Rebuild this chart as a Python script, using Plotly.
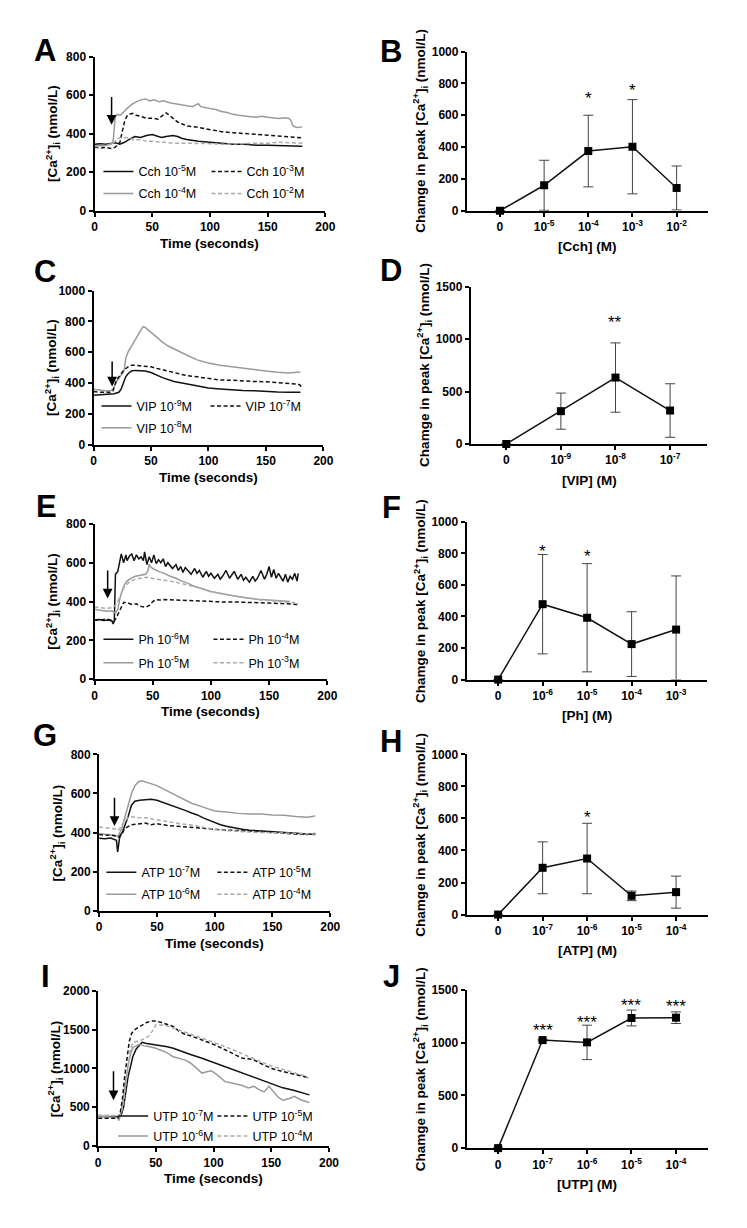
import plotly.graph_objects as go

W, H = 739, 1220          # figure size (page body adds an 8 px margin)
OFF = 8
FONT = "Liberation Sans, Arial, Helvetica, sans-serif"

# ======================= DATA =======================
# ---- Panel A : carbachol time courses ----
A_cch5_t = [0, 5, 10, 15, 18, 22, 26, 30, 35, 40, 45, 50, 55, 58, 62, 68, 72, 76, 80, 90, 100, 110, 120, 130, 140, 150, 160, 170, 180]
A_cch5 = [345, 348, 345, 350, 352, 345, 355, 370, 385, 380, 390, 395, 385, 380, 385, 390, 385, 375, 370, 360, 355, 350, 345, 345, 340, 340, 338, 338, 335]
A_cch4_t = [0, 5, 10, 14, 16, 17, 18, 20, 22, 25, 28, 32, 36, 40, 44, 48, 52, 56, 60, 65, 70, 75, 80, 85, 88, 90, 92, 95, 100, 105, 110, 115, 120, 125, 130, 135, 140, 145, 150, 155, 160, 165, 168, 170, 172, 175, 180]
A_cch4 = [335, 340, 338, 345, 350, 420, 490, 500, 495, 510, 530, 550, 565, 575, 580, 570, 575, 565, 570, 560, 555, 550, 545, 540, 550, 555, 540, 535, 530, 525, 515, 510, 500, 495, 490, 488, 485, 490, 485, 480, 478, 482, 480, 470, 440, 432, 435]
A_cch3_t = [0, 5, 10, 15, 18, 20, 22, 24, 26, 28, 30, 33, 36, 40, 45, 50, 55, 58, 62, 65, 68, 72, 76, 80, 90, 100, 110, 120, 130, 140, 150, 160, 170, 175, 180]
A_cch3 = [330, 325, 328, 322, 330, 340, 355, 410, 460, 490, 500, 505, 495, 490, 480, 480, 475, 490, 508, 495, 480, 460, 450, 440, 432, 420, 410, 405, 400, 398, 393, 388, 380, 380, 378]
A_cch2_t = [0, 5, 10, 15, 18, 20, 25, 30, 35, 40, 45, 50, 60, 70, 80, 90, 100, 110, 120, 130, 140, 150, 160, 170, 180]
A_cch2 = [335, 330, 340, 345, 360, 375, 380, 378, 365, 370, 360, 360, 355, 350, 350, 350, 348, 345, 345, 348, 350, 350, 355, 352, 350]

# ---- Panel C : VIP time courses ----
C_vip9_t = [0, 5, 10, 15, 18, 20, 22, 24, 26, 28, 30, 33, 36, 40, 45, 50, 55, 60, 70, 80, 90, 100, 110, 120, 130, 140, 150, 160, 170, 180]
C_vip9 = [320, 322, 325, 325, 330, 335, 340, 360, 400, 440, 460, 478, 482, 480, 478, 468, 450, 435, 410, 395, 380, 368, 362, 355, 352, 350, 345, 342, 340, 340]
C_vip8_t = [0, 5, 10, 15, 17, 20, 23, 26, 27, 28, 30, 33, 36, 40, 43, 45, 48, 52, 56, 60, 65, 70, 75, 80, 90, 100, 110, 120, 130, 140, 150, 160, 170, 180]
C_vip8 = [360, 355, 350, 352, 360, 410, 440, 470, 500, 560, 600, 640, 680, 730, 765, 760, 740, 715, 690, 665, 640, 620, 600, 585, 550, 530, 515, 505, 495, 485, 478, 470, 465, 472]
C_vip7_t = [0, 5, 10, 15, 17, 20, 23, 26, 30, 33, 36, 40, 45, 50, 55, 60, 70, 80, 90, 100, 110, 120, 130, 140, 150, 160, 170, 178, 180, 181]
C_vip7 = [345, 340, 340, 340, 350, 420, 450, 480, 505, 515, 515, 512, 505, 505, 495, 485, 465, 450, 440, 430, 420, 418, 412, 410, 408, 402, 398, 393, 385, 360]

# ---- Panel E : phenylephrine time courses ----
E_ph6_t = [0, 4, 8, 12, 15, 16, 17, 18, 20, 22, 23, 25, 27, 28, 30, 32, 34, 36, 38, 40, 42, 43, 45, 47, 49, 51, 53, 55, 57, 59,
           61, 63, 65, 67, 70, 72, 74, 76, 78, 80, 83, 86, 88, 90, 93, 96, 98, 100, 103, 106, 108, 110, 113, 116, 118, 120, 123, 126, 128, 130,
           133, 136, 138, 140, 143, 146, 148, 150, 152, 154, 156, 158, 160, 162, 164, 166, 168, 170, 172, 174, 175]
E_ph6 = [305, 308, 302, 305, 300, 285, 300, 540, 555, 620, 645, 600, 640, 610, 635, 645, 610, 640, 620, 630, 610, 655, 590, 630, 600, 640, 595, 615, 600, 620,
         580, 600, 585, 570, 590, 560, 580, 550, 575, 560, 540, 570, 545, 560, 525, 555, 530, 545, 520, 540, 515, 530, 560, 520, 540, 555, 515, 540, 510, 525,
         500, 530, 505, 520, 560, 515, 540, 580, 525, 565, 520, 545, 525, 505, 540, 500, 530, 515, 545, 505, 545]
E_ph5_t = [0, 5, 10, 15, 17, 18, 20, 22, 24, 26, 28, 30, 35, 40, 44, 46, 47, 48, 50, 55, 60, 65, 70, 75, 80, 85, 90, 95, 100, 110, 120, 130, 140, 150, 160, 168]
E_ph5 = [360, 355, 350, 352, 345, 340, 360, 420, 460, 490, 505, 515, 530, 535, 540, 560, 592, 580, 570, 555, 545, 530, 520, 505, 495, 480, 470, 460, 452, 440, 428, 420, 412, 408, 402, 400]
E_ph4_t = [0, 5, 10, 15, 17, 19, 21, 23, 25, 28, 32, 36, 40, 44, 47, 50, 53, 56, 60, 70, 80, 90, 100, 110, 120, 130, 140, 150, 160, 170, 175]
E_ph4 = [305, 305, 310, 305, 300, 320, 345, 375, 395, 395, 385, 388, 375, 370, 380, 400, 410, 408, 410, 408, 405, 402, 400, 398, 398, 395, 395, 392, 390, 388, 385]
E_ph3_t = [0, 5, 10, 15, 18, 20, 23, 26, 30, 35, 40, 45, 50, 55, 60, 65, 70, 80, 90, 100, 110, 120, 130, 140, 150, 160, 170, 175]
E_ph3 = [372, 368, 365, 368, 380, 400, 440, 480, 500, 515, 520, 525, 518, 515, 510, 505, 500, 485, 470, 450, 440, 428, 418, 410, 405, 400, 395, 392]

# ---- Panel G : ATP time courses ----
G_atp7_t = [0, 5, 10, 14, 15, 16, 17, 18, 20, 22, 25, 28, 31, 35, 40, 45, 50, 55, 60, 65, 70, 75, 80, 85, 90, 95, 100, 105, 110, 115, 120, 125, 130, 140, 150, 160, 170, 180, 187]
G_atp7 = [370, 368, 372, 365, 360, 300, 350, 385, 400, 430, 480, 540, 560, 565, 568, 570, 565, 555, 545, 535, 525, 512, 500, 490, 475, 462, 450, 440, 432, 425, 420, 415, 412, 408, 405, 400, 398, 392, 390]
G_atp6_t = [0, 5, 10, 14, 16, 18, 20, 22, 25, 28, 31, 34, 37, 40, 45, 50, 55, 60, 65, 70, 75, 80, 90, 100, 110, 120, 130, 140, 150, 160, 170, 180, 187]
G_atp6 = [395, 392, 388, 385, 380, 400, 430, 470, 530, 600, 640, 660, 665, 660, 650, 640, 625, 610, 595, 580, 565, 550, 530, 510, 505, 498, 495, 495, 490, 488, 482, 478, 485]
G_atp5_t = [0, 5, 10, 14, 16, 18, 20, 22, 25, 28, 32, 36, 40, 45, 50, 60, 70, 80, 90, 100, 110, 120, 130, 140, 150, 160, 170, 180, 187]
G_atp5 = [390, 385, 388, 382, 375, 378, 395, 420, 430, 440, 442, 445, 448, 440, 445, 435, 430, 425, 420, 415, 412, 410, 408, 405, 400, 395, 392, 390, 395]
G_atp4_t = [0, 5, 10, 14, 16, 18, 20, 23, 26, 30, 35, 40, 45, 50, 55, 60, 70, 80, 90, 100, 110, 120, 130, 140, 150, 160, 170, 180, 187]
G_atp4 = [428, 425, 422, 418, 410, 420, 440, 465, 480, 480, 475, 475, 470, 465, 460, 452, 445, 438, 428, 415, 410, 405, 402, 400, 400, 398, 395, 392, 392]

# ---- Panel I : UTP time courses ----
I_utp7_t = [0, 5, 10, 15, 18, 20, 22, 24, 26, 28, 30, 33, 36, 38, 42, 46, 50, 55, 60, 65, 70, 75, 80, 90, 100, 110, 120, 130, 140, 150, 160, 170, 183]
I_utp7 = [380, 382, 378, 380, 382, 400, 500, 700, 900, 1020, 1150, 1250, 1310, 1335, 1320, 1310, 1305, 1295, 1280, 1260, 1230, 1200, 1180, 1130, 1075, 1030, 975, 920, 860, 800, 750, 715, 660]
I_utp6_t = [0, 5, 10, 15, 17, 18, 20, 22, 24, 26, 28, 30, 33, 36, 40, 45, 50, 55, 60, 65, 70, 75, 80, 85, 90, 95, 98, 102, 106, 110,
            115, 120, 125, 130, 135, 140, 144, 148, 152, 156, 160, 165, 170, 175, 180, 183]
I_utp6 = [385, 382, 380, 378, 370, 330, 450, 650, 850, 1050, 1180, 1270, 1290, 1310, 1290, 1280, 1260, 1230, 1200, 1150, 1130, 1110, 1070, 1010, 940, 960, 970, 930, 880, 830,
          815, 800, 780, 750, 770, 720, 700, 770, 700, 630, 590, 610, 640, 600, 575, 560]
I_utp5_t = [0, 5, 10, 15, 17, 19, 21, 23, 25, 27, 29, 31, 34, 38, 42, 46, 50, 55, 60, 65, 70, 75, 80, 90, 100, 110, 120, 125, 130, 135, 140, 150, 160, 170, 180, 183]
I_utp5 = [360, 358, 360, 355, 360, 420, 600, 900, 1150, 1350, 1450, 1490, 1520, 1560, 1590, 1610, 1610, 1590, 1565, 1540, 1480, 1440, 1420, 1370, 1310, 1240, 1170, 1130, 1125, 1110, 1070, 1000, 960, 925, 890, 880]
I_utp4_t = [0, 5, 10, 15, 18, 20, 22, 24, 26, 28, 30, 33, 36, 40, 44, 48, 50, 52, 55, 60, 65, 70, 75, 80, 90, 100, 110, 120, 130, 140, 150, 160, 170, 180, 182]
I_utp4 = [400, 398, 395, 398, 390, 420, 550, 800, 1050, 1250, 1330, 1340, 1360, 1380, 1420, 1500, 1560, 1565, 1560, 1545, 1520, 1490, 1460, 1440, 1390, 1340, 1280, 1220, 1150, 1090, 1030, 985, 950, 900, 870]

# ---- Stimulus arrows (time, arrow top, arrow tip) ----
ARROW_A = [14.8, 598, 446]
ARROW_C = [16.2, 550, 378]
ARROW_E = [11.3, 568, 415]
ARROW_G = [13.3, 586, 434]
ARROW_I = [13.3, 983, 589]

# ---- Dose-response panels ----
B_labels = ["0", "10<sup>-5</sup>", "10<sup>-4</sup>", "10<sup>-3</sup>", "10<sup>-2</sup>"]
B_mean = [0, 160, 375, 402, 143]
B_err = [0, 157, 225, 296, 138]
B_star = ["", "", "*", "*", ""]
B_star_y = [None, None, 730, 778, None]

D_labels = ["0", "10<sup>-9</sup>", "10<sup>-8</sup>", "10<sup>-7</sup>"]
D_mean = [0, 313, 633, 319]
D_err = [0, 172, 330, 255]
D_star = ["", "", "**", ""]
D_star_y = [None, None, 1196, None]

F_labels = ["0", "10<sup>-6</sup>", "10<sup>-5</sup>", "10<sup>-4</sup>", "10<sup>-3</sup>"]
F_mean = [0, 478, 392, 225, 317]
F_err = [0, 315, 343, 205, 340]
F_err_minus = [0, 315, 343, 205, 317]
F_star = ["", "*", "*", "", ""]
F_star_y = [None, 837, 806, None, None]

H_labels = ["0", "10<sup>-7</sup>", "10<sup>-6</sup>", "10<sup>-5</sup>", "10<sup>-4</sup>"]
H_mean = [0, 292, 350, 117, 140]
H_err = [0, 162, 220, 30, 100]
H_star = ["", "", "*", "", ""]
H_star_y = [None, None, 632, None, None]

J_labels = ["0", "10<sup>-7</sup>", "10<sup>-6</sup>", "10<sup>-5</sup>", "10<sup>-4</sup>"]
J_mean = [0, 1023, 1001, 1232, 1235]
J_err = [0, 8, 163, 75, 55]
J_star = ["", "***", "***", "***", "***"]
J_star_y = [None, 1147, 1225, 1388, 1375]

# ======================= LAYOUT HELPERS =======================
BLACK = "#111111"
GRAY = "#9a9a9a"
LGRAY = "#aaaaaa"
DASH = "4px,2.5px"


def fx(p):
    return (p - OFF) / W


def fy(p):
    return 1 - (p - OFF) / H


def sfx(i):
    return "" if i == 1 else str(i)


fig = go.Figure()
annotations = []
layout = dict(
    width=W, height=H, margin=dict(l=0, r=0, t=0, b=0),
    paper_bgcolor="white", plot_bgcolor="white",
    font=dict(family=FONT, color="black"),
    showlegend=True,
)

TICKFONT = dict(family=FONT, size=12, color="black", weight="bold")
TITLEFONT = dict(family=FONT, size=13.5, color="black", weight="bold")


def axis_common():
    return dict(showline=True, linecolor="black", linewidth=2, ticks="outside",
                ticklen=4, tickwidth=1.5, tickcolor="black", showgrid=False,
                zeroline=False, tickfont=TICKFONT, fixedrange=True)


def make_axes(i, box, xr, yr, ydtick, xtickvals=None, xticktext=None, xdtick=None):
    x0, x1, yt, yb = box
    xa = axis_common()
    xa.update(domain=[fx(x0), fx(x1)], anchor="y" + sfx(i), range=xr)
    if xtickvals is not None:
        xa.update(tickmode="array", tickvals=xtickvals, ticktext=xticktext)
    else:
        xa.update(tickmode="linear", tick0=0, dtick=xdtick)
    ya = axis_common()
    ya.update(domain=[fy(yb), fy(yt)], anchor="x" + sfx(i), range=yr,
              tickmode="linear", tick0=0, dtick=ydtick)
    layout["xaxis" + sfx(i)] = xa
    layout["yaxis" + sfx(i)] = ya


def letter(txt, cx, cy):
    annotations.append(dict(text=txt, x=fx(cx), y=fy(cy), xref="paper", yref="paper",
                            showarrow=False, xanchor="center", yanchor="middle",
                            font=dict(family=FONT, size=31, color="black", weight="bold")))


def titles(box, xtitle, ytitle, xoff, yoff):
    x0, x1, yt, yb = box
    annotations.append(dict(text=xtitle, x=fx((x0 + x1) / 2), y=fy(yb + xoff),
                            xref="paper", yref="paper", showarrow=False,
                            xanchor="center", yanchor="middle", font=TITLEFONT))
    annotations.append(dict(text=ytitle, x=fx(x0 - yoff), y=fy((yt + yb) / 2),
                            xref="paper", yref="paper", showarrow=False, textangle=-90,
                            xanchor="center", yanchor="middle", font=TITLEFONT))


CA_LEFT = "[Ca<sup>2+</sup>]<sub>i</sub> (nmol/L)"
CA_RIGHT = "Chamge in peak [Ca<sup>2+</sup>]<sub>i</sub> (nmol/L)"

# ======================= TIME-COURSE PANELS =======================
time_panels = [
    (1, "A", (93, 328, 50, 206), 800, 200,
     [("Cch 10<sup>-5</sup>M", A_cch5_t, A_cch5, BLACK, "solid", 0),
      ("Cch 10<sup>-4</sup>M", A_cch4_t, A_cch4, GRAY, "solid", 0),
      ("Cch 10<sup>-3</sup>M", A_cch3_t, A_cch3, BLACK, DASH, 1),
      ("Cch 10<sup>-2</sup>M", A_cch2_t, A_cch2, LGRAY, DASH, 1)],
     ARROW_A, (137, 247, 166, 22), (43, 43.5)),
    (3, "C", (92, 326, 286.7, 442.7), 1000, 200,
     [("VIP 10<sup>-9</sup>M", C_vip9_t, C_vip9, BLACK, "solid", 0),
      ("VIP 10<sup>-8</sup>M", C_vip8_t, C_vip8, GRAY, "solid", 0),
      ("VIP 10<sup>-7</sup>M", C_vip7_t, C_vip7, BLACK, DASH, 1)],
     ARROW_C, (135, 246, 403.3, 21.7), (43, 267.5)),
    (5, "E", (93, 330, 522.7, 680), 800, 200,
     [("Ph 10<sup>-6</sup>M", E_ph6_t, E_ph6, BLACK, "solid", 0),
      ("Ph 10<sup>-5</sup>M", E_ph5_t, E_ph5, GRAY, "solid", 0),
      ("Ph 10<sup>-4</sup>M", E_ph4_t, E_ph4, BLACK, DASH, 1),
      ("Ph 10<sup>-3</sup>M", E_ph3_t, E_ph3, LGRAY, DASH, 1)],
     ARROW_E, (137, 249, 639.3, 23.4), (44, 505)),
    (7, "G", (97.7, 333, 756, 914), 800, 200,
     [("ATP 10<sup>-7</sup>M", G_atp7_t, G_atp7, BLACK, "solid", 0),
      ("ATP 10<sup>-6</sup>M", G_atp6_t, G_atp6, GRAY, "solid", 0),
      ("ATP 10<sup>-5</sup>M", G_atp5_t, G_atp5, BLACK, DASH, 1),
      ("ATP 10<sup>-4</sup>M", G_atp4_t, G_atp4, LGRAY, DASH, 1)],
     ARROW_G, (140, 253, 875, 22), (43, 737)),
    (9, "I", (96.7, 331.7, 995, 1152.3), 2000, 500,
     [("UTP 10<sup>-7</sup>M", I_utp7_t, I_utp7, BLACK, "solid", 0),
      ("UTP 10<sup>-6</sup>M", I_utp6_t, I_utp6, GRAY, "solid", 0),
      ("UTP 10<sup>-5</sup>M", I_utp5_t, I_utp5, BLACK, DASH, 1),
      ("UTP 10<sup>-4</sup>M", I_utp4_t, I_utp4, LGRAY, DASH, 1)],
     ARROW_I, (152, 253, 1121.7, 20), (43, 981)),
]

LEG_FONT = dict(family=FONT, size=12.5, color="black")
legend_count = 0
for (i, let, box, ymax, dt, series, arrow, leg, lpos) in time_panels:
    make_axes(i, box, [0, 200], [0, ymax], dt, xdtick=50)
    letter(let, *lpos)
    titles(box, "Time (seconds)", CA_LEFT, 33, 43)
    tx1, tx2, ry, sp = leg
    names = []
    for col, txx in enumerate((tx1, tx2)):
        legend_count += 1
        lname = "legend" + sfx(legend_count)
        names.append(lname)
        layout[lname] = dict(x=fx(txx - 40), y=fy(ry - 14.6), xanchor="left", yanchor="top",
                             orientation="v", bgcolor="rgba(0,0,0,0)", borderwidth=0,
                             font=LEG_FONT, tracegroupgap=sp - 19.25, itemwidth=30,
                             traceorder="grouped")
    for (nm, t, v, c, d, col) in series:
        fig.add_trace(go.Scatter(x=t, y=v, mode="lines", name=nm,
                                 line=dict(color=c, width=1.5, dash=d),
                                 xaxis="x" + sfx(i), yaxis="y" + sfx(i),
                                 legend=names[col], legendgroup=nm))
    at, atop, atip = arrow
    annotations.append(dict(x=at, y=atip, ax=at, ay=atop, xref="x" + sfx(i), yref="y" + sfx(i),
                            axref="x" + sfx(i), ayref="y" + sfx(i), text="", showarrow=True,
                            arrowhead=2, arrowsize=1.3, arrowwidth=1.5, arrowcolor="black"))

# ======================= DOSE-RESPONSE PANELS =======================
dose_panels = [
    (2, "B", (472, 717, 45, 206), [-0.75, 4.7], 1000, 200, B_labels, B_mean, B_err, B_err, B_star, B_star_y, "[Cch] (M)", (395, 45)),
    (4, "D", (476, 716.7, 282.7, 442), [-0.65, 3.68], 1500, 500, D_labels, D_mean, D_err, D_err, D_star, D_star_y, "[VIP] (M)", (395, 266)),
    (6, "F", (471.7, 716.7, 520.7, 680.3), [-0.71, 4.7], 1000, 200, F_labels, F_mean, F_err, F_err_minus, F_star, F_star_y, "[Ph] (M)", (395, 506.5)),
    (8, "H", (471.7, 717.6, 756, 918), [-0.71, 4.72], 1000, 200, H_labels, H_mean, H_err, H_err, H_star, H_star_y, "[ATP] (M)", (395, 743)),
    (10, "J", (471.7, 717, 994, 1154.3), [-0.71, 4.71], 1500, 500, J_labels, J_mean, J_err, J_err, J_star, J_star_y, "[UTP] (M)", (395, 981)),
]

for (i, let, box, xr, ymax, dt, labels, mean, ep, em, stars, star_y, xt, lpos) in dose_panels:
    idx = list(range(len(labels)))
    make_axes(i, box, xr, [0, ymax], dt, xtickvals=idx, xticktext=labels)
    letter(let, *lpos)
    titles(box, xt, CA_RIGHT, 36.5, 47)
    fig.add_trace(go.Scatter(x=idx, y=mean, mode="lines+markers", showlegend=False,
                             line=dict(color=BLACK, width=1.5),
                             marker=dict(symbol="square", size=8, color="black"),
                             error_y=dict(type="data", symmetric=False, array=ep, arrayminus=em,
                                          color="#444444", thickness=1, width=5),
                             cliponaxis=False,
                             xaxis="x" + sfx(i), yaxis="y" + sfx(i)))
    for k, s in enumerate(stars):
        if s:
            annotations.append(dict(x=idx[k], y=star_y[k], xref="x" + sfx(i), yref="y" + sfx(i),
                                    text=s, showarrow=False, xanchor="center", yanchor="middle",
                                    yshift=-4, font=dict(family=FONT, size=17, color="black")))

layout["annotations"] = annotations
fig.update_layout(**layout)
fig.write_html("out.html")
